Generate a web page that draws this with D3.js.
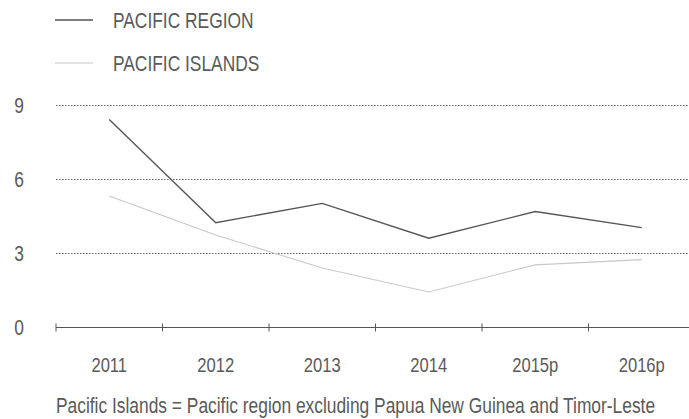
<!DOCTYPE html>
<html>
<head>
<meta charset="utf-8">
<script src="https://cdn.jsdelivr.net/npm/d3@7"></script>
<style>
  body { margin: 0; background: #fff; }
  svg text { font-family: "Liberation Sans", Arial, sans-serif; fill: #5a5a5a; }
</style>
</head>
<body>
<div id="graph"></div>
<script>
// data
var years = ['2011', '2012', '2013', '2014', '2015p', '2016p']
var pacificRegion = [8.43, 4.25, 5.03, 3.62, 4.70, 4.05]
var pacificIslands = [5.33, 3.75, 2.41, 1.44, 2.54, 2.75]
var yTicks = [0, 3, 6, 9]
var seriesNames = ['PACIFIC REGION', 'PACIFIC ISLANDS']
var footnote = 'Pacific Islands = Pacific region excluding Papua New Guinea and Timor-Leste'

var width = 689, height = 419
var narrow = 0.79   // squeeze text to look like a narrow face

var svg = d3.select('#graph')
    .append('svg')
    .attr('width', width)
    .attr('height', height)

// narrow text helper: x is given in page pixels
function narrowText(sel, xPos, yPos, anchor, size, str) {
    return sel.append('text')
        .attr('transform', 'scale(' + narrow + ',1)')
        .attr('x', xPos / narrow)
        .attr('y', yPos)
        .attr('text-anchor', anchor)
        .style('font-size', size + 'px')
        .text(str)
}

// scales
var x = d3.scaleBand()
    .domain(years)
    .range([56, 56 + 6 * 106.5])

var y = d3.scaleLinear()
    .domain([0, 9])
    .range([327.5, 105.5])

var colors = ['#555555', '#c9c9c9']
var widths = [1.4, 1.1]

// legend
seriesNames.forEach(function (name, i) {
    var ly = 20 + i * 43
    svg.append('line')
        .attr('x1', 55).attr('x2', 93)
        .attr('y1', ly).attr('y2', ly)
        .attr('stroke', colors[i])
        .attr('stroke-width', widths[i])
    narrowText(svg, 113, ly + 8, 'start', 22, name)
})

// dotted gridlines
svg.append('g')
    .selectAll('line')
    .data(yTicks.filter(function (d) { return d > 0 }))
    .enter().append('line')
    .attr('x1', 56).attr('x2', width)
    .attr('y1', function (d) { return y(d) })
    .attr('y2', function (d) { return y(d) })
    .attr('stroke', '#6a6a6a')
    .attr('stroke-width', 1.1)
    .attr('stroke-dasharray', '1.6,1.4')

// y labels
yTicks.forEach(function (d) {
    narrowText(svg, 19, y(d) + 8, 'middle', 22, d)
})

// x axis: baseline with ticks on band edges
var xAxis = svg.append('g')
xAxis.append('line')
    .attr('x1', x.range()[0]).attr('x2', width)
    .attr('y1', y(0)).attr('y2', y(0))
    .attr('stroke', '#555')
    .attr('stroke-width', 1.2)
xAxis.selectAll('.tick')
    .data(years)
    .enter().append('line')
    .attr('x1', function (d) { return x(d) })
    .attr('x2', function (d) { return x(d) })
    .attr('y1', y(0) - 4).attr('y2', y(0) + 4)
    .attr('stroke', '#555')
    .attr('stroke-width', 1)
years.forEach(function (d) {
    narrowText(xAxis, x(d) + x.bandwidth() / 2, 372, 'middle', 21, d)
})

// lines
var line = d3.line()
    .x(function (d, i) { return x(years[i]) + x.bandwidth() / 2 })
    .y(function (d) { return y(d) })

;[pacificRegion, pacificIslands].forEach(function (s, i) {
    svg.append('path')
        .datum(s)
        .attr('d', line)
        .attr('fill', 'none')
        .attr('stroke', colors[i])
        .attr('stroke-width', widths[i])
})

// footnote
narrowText(svg, 56, 413, 'start', 22, footnote)
</script>
</body>
</html>
